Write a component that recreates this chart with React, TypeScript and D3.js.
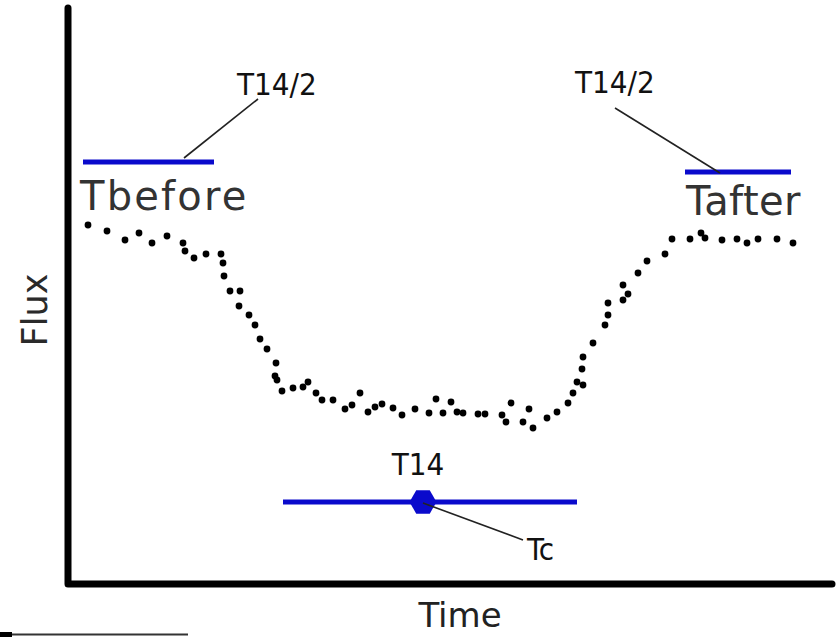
import React from "react";
import * as d3 from "d3";

// Light curve of a transit: time in hours, normalized flux
const timeHours = [
  0.2, 0.39, 0.57, 0.71, 0.84, 0.99, 1.15, 1.17, 1.26, 1.38, 1.53, 1.55, 1.56, 1.62, 1.72, 1.71,
  1.81, 1.87, 1.92, 1.99, 2.08, 2.07, 2.09, 2.14, 2.25, 2.35, 2.4, 2.48, 2.54, 2.65, 2.77, 2.84,
  2.92, 3.0, 3.07, 3.14, 3.25, 3.34, 3.47, 3.61, 3.68, 3.75, 3.83, 3.89, 3.95, 4.1, 4.17, 4.34,
  4.38, 4.43, 4.55, 4.61, 4.65, 4.79, 4.89, 5.0, 5.05, 5.09, 5.15, 5.14, 5.15, 5.25, 5.37, 5.4,
  5.4, 5.55, 5.6, 5.55, 5.7, 5.79, 5.97, 6.04, 6.22, 6.33, 6.37, 6.54, 6.69, 6.79, 6.9, 7.09, 7.25,
];
const fluxValues = [
  1.0015, 1.0009, 1.0, 1.0007, 0.9997, 1.0004, 0.9997, 0.9989, 0.9982, 0.9986, 0.9986, 0.9977,
  0.9964, 0.9949, 0.9949, 0.9934, 0.9925, 0.9915, 0.9901, 0.9891, 0.9877, 0.9864, 0.986, 0.9849,
  0.9852, 0.9853, 0.9858, 0.9847, 0.984, 0.984, 0.9831, 0.9835, 0.9847, 0.9828, 0.9833, 0.9836,
  0.9832, 0.9825, 0.9831, 0.9827, 0.9841, 0.9827, 0.9838, 0.9828, 0.9827, 0.9826, 0.9826, 0.9825,
  0.9818, 0.9837, 0.9818, 0.9831, 0.9812, 0.9822, 0.9828, 0.9837, 0.9847, 0.9858, 0.9855, 0.9871,
  0.9883, 0.9897, 0.9915, 0.9925, 0.9937, 0.994, 0.9946, 0.9955, 0.9967, 0.9979, 0.9986, 1.0001,
  1.0001, 1.0007, 1.0002, 1.0, 1.0001, 0.9997, 1.0001, 1.0001, 0.9997,
];

// Duration bars: name, start, end (hours), level (flux)
const barNames = ["before", "after", "T14"];
const barStart = [0.15, 6.17, 2.15];
const barEnd = [1.46, 7.23, 5.09];
const barLevel = [1.0078, 1.0068, 0.9738];

// Mid-transit time
const tcTime = 3.55;

// Callout leaders: [t0, f0, t1, f1]
const leaders = [
  [1.16, 1.0082, 1.9, 1.0141],
  [5.47, 1.0132, 6.52, 1.0067],
  [3.55, 0.9737, 4.55, 0.97],
];

// Small labels: text, time, flux (baseline), anchor
const smallLabels = ["T14/2", "T14/2", "T14", "Tc"];
const smallLabelT = [1.69, 5.07, 3.5, 4.59];
const smallLabelF = [1.0145, 1.0147, 0.9765, 0.968];
const smallLabelAnchor = ["start", "start", "middle", "start"];

// Large labels for the out-of-transit windows
const bigLabels = ["Tbefore", "Tafter"];
const bigLabelT = [0.12, 6.18];
const bigLabelF = [1.003, 1.0025];
const bigLabelSpacing = [2.2, 0.4];

export default function App() {
  const width = 836;
  const height = 637;

  const x = d3.scaleLinear().domain([0, 7.64]).range([68, 832]);
  const y = d3.scaleLinear().domain([0.9656, 1.0232]).range([584, 8]);

  const axisPath = d3.line()([
    [x(0), y(1.0232)],
    [x(0), y(0.9656)],
    [x(7.64), y(0.9656)],
  ]);

  const hexR = 13.5;
  const hex = d3.line().curve(d3.curveLinearClosed)(
    d3.range(6).map((i) => {
      const a = (Math.PI / 3) * i;
      return [x(tcTime) + hexR * Math.cos(a), y(barLevel[2]) + hexR * Math.sin(a)];
    })
  );

  const smallFont = "'DejaVu Sans Condensed', 'DejaVu Sans', sans-serif";
  const bigFont = "'DejaVu Sans', Verdana, sans-serif";

  return (
    <svg
      width={width}
      height={height}
      style={{ position: "absolute", left: 0, top: 0, background: "#fff" }}
    >
      <rect width={width} height={height} fill="#fff" />

      {/* axes */}
      <path
        d={axisPath || ""}
        fill="none"
        stroke="#000"
        strokeWidth={7}
        strokeLinecap="round"
        strokeLinejoin="round"
      />

      {/* axis titles */}
      <text
        x={x(3.92)}
        y={627}
        textAnchor="middle"
        fontFamily={bigFont}
        fontSize={34}
        fill="#222"
      >
        Time
      </text>
      <text
        transform={`translate(47, ${y(0.993)}) rotate(-90)`}
        textAnchor="middle"
        fontFamily={bigFont}
        fontSize={35}
        fill="#2a2a2a"
      >
        Flux
      </text>

      {/* light-curve samples */}
      {timeHours.map((t, i) => (
        <circle key={i} cx={x(t)} cy={y(fluxValues[i])} r={3.4} fill="#000" />
      ))}

      {/* duration bars */}
      {barNames.map((n, i) => (
        <line
          key={n}
          x1={x(barStart[i])}
          x2={x(barEnd[i])}
          y1={y(barLevel[i])}
          y2={y(barLevel[i])}
          stroke="#0a0acc"
          strokeWidth={5}
        />
      ))}
      <path d={hex || ""} fill="#0a0acc" />

      {/* callout leaders */}
      {leaders.map((l, i) => (
        <line
          key={i}
          x1={x(l[0])}
          y1={y(l[1])}
          x2={x(l[2])}
          y2={y(l[3])}
          stroke="#222"
          strokeWidth={1.6}
        />
      ))}

      {smallLabels.map((s, i) => (
        <text
          key={i}
          x={x(smallLabelT[i])}
          y={y(smallLabelF[i])}
          textAnchor={smallLabelAnchor[i]}
          fontFamily={smallFont}
          fontStretch="condensed"
          fontSize={31}
          fill="#111"
        >
          {s}
        </text>
      ))}

      {bigLabels.map((s, i) => (
        <text
          key={s}
          x={x(bigLabelT[i])}
          y={y(bigLabelF[i])}
          fontFamily={bigFont}
          fontSize={40}
          letterSpacing={bigLabelSpacing[i]}
          fill="#333"
        >
          {s}
        </text>
      ))}

      {/* rule at lower left */}
      <line x1={0} x2={188} y1={634.5} y2={634.5} stroke="#333" strokeWidth={2} />
      <rect x={0} y={632} width={12} height={5} fill="#000" />
    </svg>
  );
}
